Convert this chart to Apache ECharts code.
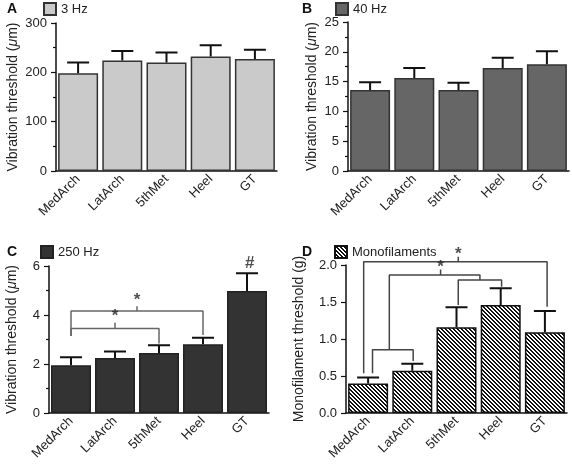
<!DOCTYPE html>
<html><head><meta charset="utf-8">
<script src="https://cdn.jsdelivr.net/npm/echarts@6/dist/echarts.min.js"></script>
<style>html,body{margin:0;padding:0;background:#fff}#c{width:572px;height:466px}</style>
</head><body><div id="c"></div>
<script>
const categories = ['MedArch','LatArch','5thMet','Heel','GT'];
const hz3Mean = [198, 224, 220, 232, 227];
const hz3Err  = [22, 19, 20, 23, 19];
const hz40Mean = [13.6, 15.6, 13.6, 17.3, 17.9];
const hz40Err  = [1.3, 1.7, 1.2, 1.7, 2.2];
const hz250Mean = [1.95, 2.25, 2.45, 2.81, 4.98];
const hz250Err  = [0.33, 0.26, 0.32, 0.26, 0.72];
const monoMean = [0.40, 0.57, 1.16, 1.46, 1.09];
const monoErr  = [0.08, 0.095, 0.27, 0.225, 0.29];
// significance brackets (x in category index units, y in data units)
const bracketsC = [
  [[0,3.14],[0,4.16],[3,4.16],[3,3.18]],
  [[1.5,4.16],[1.5,4.36]],
  [[0,3.14],[0,3.45],[2,3.45],[2,2.84]],
  [[1.0,3.45],[1.0,3.68]]
];
const marksC = [['*',1.5,4.6],['*',1.0,3.93],['#',4.06,6.12]];
const bracketsD = [
  [[0.1,0.536],[0.1,0.856],[1.02,0.856],[1.02,0.703]],
  [[0.48,0.856],[0.48,1.865],[2.53,1.865],[2.53,1.797]],
  [[2.04,1.459],[2.04,1.797],[3.02,1.797],[3.02,1.707]],
  [[1.64,1.865],[1.64,1.94]],
  [[-0.1,0.536],[-0.1,2.045],[4.05,2.045],[4.05,1.437]],
  [[2.04,2.045],[2.04,2.11]]
];
const marksD = [['*',1.64,1.97],['*',2.04,2.15]];

const FONT = 'Liberation Sans';
const chart = echarts.init(document.getElementById('c'), null, {renderer:'canvas'});

// hatch pattern
const pc = document.createElement('canvas');
pc.width = 4; pc.height = 4;
const pctx = pc.getContext('2d');
pctx.fillStyle = '#fff'; pctx.fillRect(0,0,4,4);
pctx.fillStyle = '#111';
for (let x=0;x<4;x++) for (let y=0;y<4;y++) { if ((((x-y)%4)+4)%4 < 2) pctx.fillRect(x,y,1,1); }
const hatch = {image: pc, repeat: 'repeat'};

const panels = [
  {name:'3 Hz', mean:hz3Mean, err:hz3Err, grid:{left:56,top:23,width:221,height:148}, max:300, interval:100, minor:true, color:'#cacaca', border:'#333', yname:'Vibration threshold ({i|μ}m)', gap:36, fmt:null, legend:{left:43,top:2}, letter:['A',7,2]},
  {name:'40 Hz', mean:hz40Mean, err:hz40Err, grid:{left:348,top:22,width:221,height:149}, max:25, interval:5, minor:true, color:'#666666', border:'#333', yname:'Vibration threshold ({i|μ}m)', gap:29, fmt:null, legend:{left:335,top:2}, letter:['B',302,2]},
  {name:'250 Hz', mean:hz250Mean, err:hz250Err, grid:{left:49,top:266,width:220,height:147}, max:6, interval:2, minor:true, color:'#333333', border:'#222', yname:'Vibration threshold ({i|μ}m)', gap:30, fmt:null, legend:{left:40,top:245}, letter:['C',7,245], brackets:bracketsC, marks:marksC, bcolor:'#666'},
  {name:'Monofilaments', mean:monoMean, err:monoErr, grid:{left:346,top:265,width:221,height:148}, max:2, interval:0.5, minor:false, color:hatch, border:'#111', yname:'Monofilament threshold (g)', gap:40, fmt:v=>v.toFixed(1), legend:{left:334,top:245}, letter:['D',302,245], brackets:bracketsD, marks:marksD, bcolor:'#444'}
];

const grid=[], xAxis=[], yAxis=[], series=[], legend=[], graphic=[];
panels.forEach((p, k) => {
  grid.push(Object.assign({containLabel:false}, p.grid));
  xAxis.push({type:'category', gridIndex:k, data:categories,
    axisLine:{onZero:false, lineStyle:{color:'#111', width:1.5}},
    axisTick:{alignWithLabel:true, length:5, lineStyle:{color:'#111', width:1.2}},
    axisLabel:{rotate:45, margin:6, fontFamily:FONT, fontSize:13, color:'#222', interval:0}});
  xAxis.push({type:'value', gridIndex:k, min:-0.5, max:4.5, show:false});
  yAxis.push({type:'value', gridIndex:k, min:0, max:p.max, interval:p.interval,
    name:p.yname, nameLocation:'middle', nameGap:p.gap, nameRotate:90,
    nameTextStyle:{fontFamily:FONT, fontSize:14, color:'#222', rich:{i:{fontStyle:'italic', fontFamily:FONT, fontSize:14, color:'#222'}}},
    axisLine:{show:true, onZero:false, lineStyle:{color:'#111', width:1.5}},
    axisTick:{show:true, length:5, lineStyle:{color:'#111', width:1.2}},
    minorTick:{show:p.minor, splitNumber:2, length:3, lineStyle:{color:'#111', width:1.2}},
    splitLine:{show:false}, minorSplitLine:{show:false},
    axisLabel:{fontFamily:FONT, fontSize:13, color:'#222', margin:9, formatter:p.fmt || undefined}});
  series.push({type:'bar', name:p.name, xAxisIndex:2*k, yAxisIndex:k, data:p.mean,
    barWidth:40, itemStyle:{color:p.color, borderColor:p.border, borderWidth:1.5}, z:2, animation:false});
  series.push({type:'custom', name:'err'+k, xAxisIndex:2*k, yAxisIndex:k, z:3, animation:false,
    data:p.mean.map((m,i)=>[i, m, m + p.err[i]]),
    encode:{x:0, y:2},
    renderItem:(params, api)=>{
      const a = api.coord([api.value(0), api.value(1)]);
      const b = api.coord([api.value(0), api.value(2)]);
      return {type:'polyline', shape:{points:[[a[0],a[1]],[b[0],b[1]],[b[0]-11,b[1]],[b[0]+11,b[1]]]},
        style:{stroke:'#111', lineWidth:2, fill:null}};
    }});
  (p.brackets||[]).forEach(br => {
    series.push({type:'line', xAxisIndex:2*k+1, yAxisIndex:k, data:br, symbol:'none', clip:false, z:4, animation:false,
      lineStyle:{color:p.bcolor, width:1.5}});
  });
  if (p.marks) {
    series.push({type:'scatter', xAxisIndex:2*k+1, yAxisIndex:k, clip:false, z:5, animation:false,
      symbolSize:1, itemStyle:{color:'rgba(0,0,0,0)'},
      data:p.marks.map(m=>({name:m[0], value:[m[1], m[2]]})),
      label:{show:true, position:'inside', formatter:q=>q.name, fontFamily:FONT, fontSize:17, fontWeight:'bold', color:'#222'}});
  }
  legend.push({data:[p.name], left:p.legend.left, top:p.legend.top, padding:0, itemWidth:12, itemHeight:12, itemGap:5,
    icon:'rect', selectedMode:false, textStyle:{fontFamily:FONT, fontSize:13, color:'#222'}});
  graphic.push({type:'text', left:p.letter[1], top:p.letter[2], style:{text:p.letter[0], font:'bold 14px "Liberation Sans"', fill:'#111'}});
});

chart.setOption({animation:false, backgroundColor:'#fff', grid, xAxis, yAxis, series, legend, graphic});
</script></body></html>
